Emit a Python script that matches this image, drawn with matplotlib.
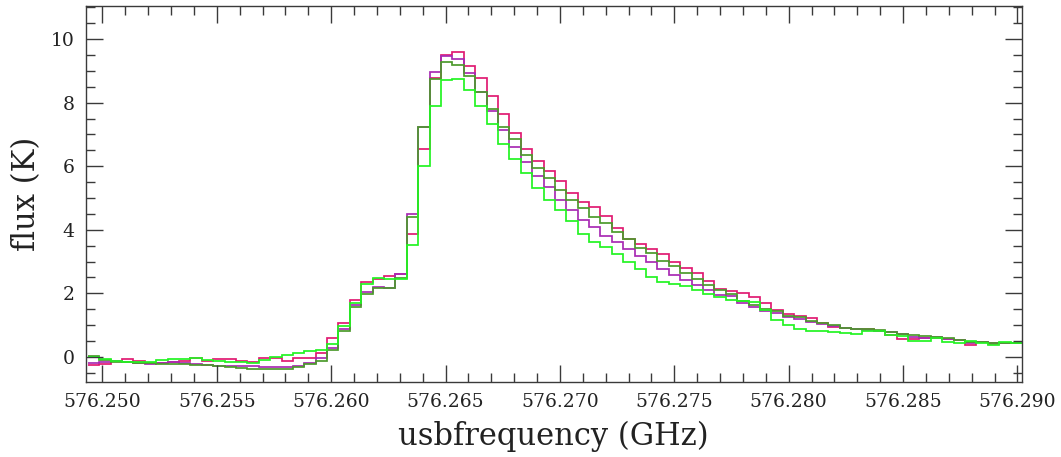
import matplotlib
matplotlib.use("Agg")
import matplotlib.pyplot as plt
import numpy as np
from matplotlib.ticker import MultipleLocator, FormatStrFormatter

# channel grid (GHz): first channel edge and channel width
chan_start = 576.249363
chan_width = 0.000498

# flux (K) per channel, four spectra
flux_pink = [
    -0.27, -0.22, -0.12, -0.08, -0.13, -0.18, -0.20, -0.16, -0.12, -0.03,
    -0.12, -0.06, -0.08, -0.14, -0.16, -0.05, -0.02, -0.12, -0.04, -0.03,
    0.13, 0.59, 1.08, 1.79, 2.36, 2.45, 2.55, 2.61,
    3.87, 6.53, 8.77, 9.51, 9.58, 9.15, 8.78, 8.21, 7.63, 7.05,
    6.53, 6.17, 5.86, 5.54, 5.17, 4.88, 4.71, 4.43, 4.05, 3.70,
    3.54, 3.39, 3.23, 2.98, 2.81, 2.63, 2.39, 2.14, 2.06, 2.02,
    1.88, 1.71, 1.48, 1.35, 1.29, 1.22, 1.06, 0.95, 0.90, 0.88,
    0.87, 0.83, 0.69, 0.56, 0.56, 0.59, 0.61, 0.56, 0.53, 0.37,
    0.46, 0.41, 0.43, 0.43,
]
flux_purple = [
    -0.20, -0.16, -0.13, -0.15, -0.19, -0.21, -0.18, -0.17, -0.20, -0.22,
    -0.24, -0.28, -0.30, -0.30, -0.30, -0.32, -0.32, -0.32, -0.28, -0.20,
    -0.02, 0.27, 0.87, 1.62, 2.05, 2.19, 2.18, 2.62,
    4.50, 7.24, 8.97, 9.47, 9.37, 8.92, 8.34, 7.74, 7.14, 6.61,
    6.12, 5.69, 5.36, 4.94, 4.62, 4.31, 4.08, 3.81, 3.61, 3.39,
    3.18, 2.98, 2.77, 2.58, 2.42, 2.26, 2.11, 1.95, 1.93, 1.69,
    1.56, 1.43, 1.37, 1.25, 1.19, 1.09, 1.04, 0.97, 0.90, 0.87,
    0.86, 0.83, 0.77, 0.72, 0.64, 0.59, 0.62, 0.56, 0.53, 0.45,
    0.46, 0.43, 0.43, 0.43,
]
flux_darkgreen = [
    0.03, -0.10, -0.15, -0.16, -0.18, -0.20, -0.22, -0.22, -0.23, -0.24,
    -0.25, -0.30, -0.33, -0.34, -0.38, -0.39, -0.39, -0.39, -0.32, -0.23,
    -0.13, 0.22, 0.82, 1.56, 1.98, 2.17, 2.17, 2.49,
    4.39, 7.24, 8.73, 9.27, 9.20, 8.85, 8.34, 7.80, 7.24, 6.85,
    6.35, 5.95, 5.62, 5.25, 4.94, 4.68, 4.39, 4.20, 3.94, 3.70,
    3.42, 3.26, 3.03, 2.86, 2.65, 2.44, 2.26, 2.11, 1.97, 1.77,
    1.64, 1.50, 1.43, 1.29, 1.25, 1.14, 1.06, 1.01, 0.90, 0.88,
    0.88, 0.85, 0.79, 0.72, 0.69, 0.66, 0.64, 0.58, 0.53, 0.48,
    0.46, 0.44, 0.43, 0.43,
]
flux_green = [
    -0.01, -0.06, -0.12, -0.15, -0.15, -0.17, -0.10, -0.07, -0.06, -0.04,
    -0.09, -0.13, -0.16, -0.17, -0.18, -0.09, 0.01, 0.06, 0.11, 0.19,
    0.22, 0.40, 0.96, 1.70, 2.30, 2.49, 2.45, 2.45,
    3.52, 6.00, 7.90, 8.70, 8.74, 8.40, 7.90, 7.33, 6.70, 6.23,
    5.78, 5.30, 4.94, 4.62, 4.28, 3.87, 3.61, 3.47, 3.24, 2.98,
    2.77, 2.51, 2.37, 2.29, 2.23, 2.11, 1.97, 1.88, 1.79, 1.77,
    1.74, 1.46, 1.16, 0.99, 0.88, 0.82, 0.80, 0.78, 0.76, 0.72,
    0.80, 0.83, 0.70, 0.66, 0.51, 0.51, 0.59, 0.48, 0.43, 0.51,
    0.43, 0.39, 0.46, 0.43,
]

series = [
    (flux_pink, "#e01a72"),
    (flux_purple, "#a82ab4"),
    (flux_darkgreen, "#4c9a2c"),
    (flux_green, "#22f422"),
]

plt.rcParams["font.family"] = ["DejaVu Serif"]

fig = plt.figure(figsize=(10.61, 4.57), dpi=100)
ax = fig.add_axes([0.0808, 0.1648, 0.8822, 0.8227])

for vals, col in series:
    vals = np.array(vals)
    edges = chan_start + chan_width * np.arange(len(vals) + 1)
    ax.stairs(vals, edges, baseline=None, color=col, linewidth=1.25)

ax.set_xlim(576.24927, 576.29019)
ax.set_ylim(-0.78, 11.05)

ax.xaxis.set_major_locator(MultipleLocator(0.005))
ax.xaxis.set_minor_locator(MultipleLocator(0.001))
ax.xaxis.set_major_formatter(FormatStrFormatter("%.3f"))
ax.yaxis.set_major_locator(MultipleLocator(2))
ax.yaxis.set_minor_locator(MultipleLocator(0.5))

edge_col = "#3a3a3a"
for s in ax.spines.values():
    s.set_color(edge_col)
    s.set_linewidth(1.0)
ax.tick_params(which="both", direction="in", top=True, right=True,
               color=edge_col, width=1.0, labelsize=13.5, labelcolor="#222222")
ax.tick_params(which="major", length=12, pad=8)
ax.tick_params(which="minor", length=6.5)

ax.set_xlabel("usbfrequency (GHz)", fontsize=22, color="#222222", labelpad=7)
ax.set_ylabel("flux (K)", fontsize=22, color="#222222", labelpad=6)

fig.savefig("out.png", dpi=100)
